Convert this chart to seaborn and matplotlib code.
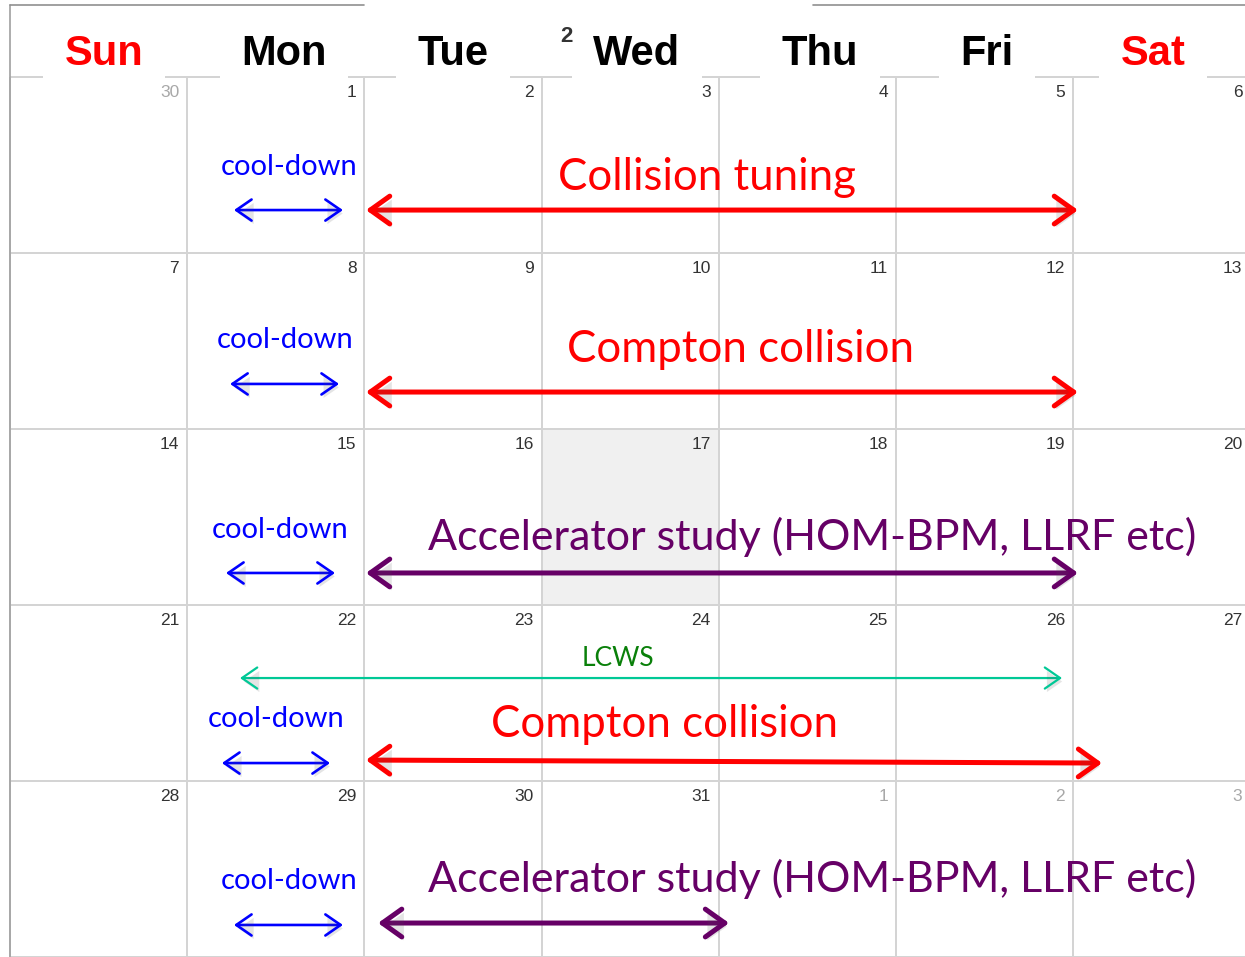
import numpy as np
import pandas as pd
import seaborn as sns
import matplotlib.pyplot as plt
import matplotlib.patheffects as pe
from matplotlib.colors import ListedColormap

sns.set_theme(style="white")
plt.rcParams['font.family'] = ['Lato', 'DejaVu Sans']

# calendar data
weekdays = ['Sun', 'Mon', 'Tue', 'Wed', 'Thu', 'Fri', 'Sat']
weekday_colors = ['#ff0000', 'black', 'black', 'black', 'black', 'black', '#ff0000']
day_numbers = [
    [30, 1, 2, 3, 4, 5, 6],
    [7, 8, 9, 10, 11, 12, 13],
    [14, 15, 16, 17, 18, 19, 20],
    [21, 22, 23, 24, 25, 26, 27],
    [28, 29, 30, 31, 1, 2, 3],
]
in_month = [
    [0, 1, 1, 1, 1, 1, 1],
    [1, 1, 1, 1, 1, 1, 1],
    [1, 1, 1, 1, 1, 1, 1],
    [1, 1, 1, 1, 1, 1, 1],
    [1, 1, 1, 1, 0, 0, 0],
]
highlight = np.zeros((5, 7))
highlight[2, 3] = 1  # the 17th is shaded

# events: (x start, x end, y start, y end) in week/day units
cooldown_arrows = [
    (1.264, 1.879, 0.756, 0.756),
    (1.242, 1.857, 1.744, 1.744),
    (1.219, 1.834, 2.818, 2.818),
    (1.196, 1.806, 3.898, 3.898),
    (1.264, 1.879, 4.818, 4.818),
]
cooldown_text = [(1.574, 0.557), (1.552, 1.540), (1.524, 2.619), (1.501, 3.693), (1.574, 4.614)]

run_arrows = [
    (2.009, 6.027, 0.756, 0.756, 'red'),
    (2.009, 6.027, 1.790, 1.790, 'red'),
    (2.009, 6.027, 2.818, 2.818, 'purple'),
    (2.009, 6.163, 3.881, 3.898, 'red'),
    (2.077, 4.058, 4.807, 4.807, 'purple'),
]
run_labels = ['Collision tuning', 'Compton collision',
              'Accelerator study (HOM-BPM, LLRF etc)',
              'Compton collision',
              'Accelerator study (HOM-BPM, LLRF etc)']
run_label_kind = ['red', 'red', 'purple', 'red', 'purple']
run_label_pos = [(3.934, 0.642), (4.125, 1.619), (4.526, 2.688), (3.691, 3.750), (4.526, 4.631)]
run_label_size = [31.5, 31.5, 31, 31.5, 31]

lcws_arrow = (1.298, 5.937, 3.415, 3.415)
lcws_pos = (3.431, 3.347)

colors = {'red': '#ff0000', 'purple': '#660066', 'blue': '#0000ff',
          'teal': '#00c896', 'green': '#0a800a'}

fig = plt.figure(figsize=(12.45, 9.57), dpi=100)
ax = fig.add_axes([0, 0, 1, 1])

sns.heatmap(pd.DataFrame(highlight), ax=ax, cmap=ListedColormap(['white', '#f0f0f0']),
            cbar=False, linewidths=1.1, linecolor='#d4d4d4',
            xticklabels=False, yticklabels=False)
ax.set_xlim(-10 / 177.2, 1235 / 177.2)
ax.set_ylim(5.0, -77 / 176)
ax.axis('off')

# header frame
ax.plot([0, 0], [-0.409, 5], color='#a0a0a0', lw=1.2, zorder=6)
for a, b in [(0, 2.0), (4.53, 7)]:
    ax.plot([a, b], [-0.409, -0.409], color='#909090', lw=1.2, zorder=6)

header_x = [0.530, 1.546, 2.500, 3.538, 4.571, 5.514, 6.450]
for i, name in enumerate(weekdays):
    ax.text(header_x[i], -0.068, name, ha='center', va='baseline',
            fontsize=30, fontweight='bold', family='Liberation Sans',
            color=weekday_colors[i], zorder=4,
            bbox=dict(boxstyle='square,pad=0.52', fc='white', ec='none'))
ax.text(3.138, -0.20, '2', ha='center', va='baseline', fontsize=16,
        fontweight='bold', family='Liberation Sans', color='#333333', zorder=5)

# day numbers
for r, week in enumerate(day_numbers):
    for c, d in enumerate(week):
        ax.text(c + 1 - 8 / 177.2, r + 8 / 176, str(d), ha='right', va='top',
                fontsize=12.5, family='Liberation Sans',
                color='#333333' if in_month[r][c] else '#a8a8a8', zorder=5)


def arrow(x0, x1, y0, y1, color, lw, hl, hw):
    ax.annotate('', xy=(x1, y1), xytext=(x0, y0),
                arrowprops=dict(arrowstyle=f'<->,head_length={hl},head_width={hw}',
                                color=color, lw=lw, shrinkA=0, shrinkB=0,
                                mutation_scale=20, capstyle='round', joinstyle='round',
                                path_effects=[pe.SimplePatchShadow(offset=(1.5, -2.5), alpha=0.15),
                                              pe.Normal()]),
                zorder=7)


for x0, x1, y0, y1 in cooldown_arrows:
    arrow(x0, x1, y0, y1, colors['blue'], 1.9, 0.55, 0.38)
for (x, y) in cooldown_text:
    ax.text(x, y, 'cool-down', ha='center', va='baseline', fontsize=21,
            color=colors['blue'], zorder=8)

for x0, x1, y0, y1, kind in run_arrows:
    arrow(x0, x1, y0, y1, colors[kind], 3.6, 0.7, 0.5)
for label, kind, (x, y), fs in zip(run_labels, run_label_kind, run_label_pos, run_label_size):
    ax.text(x, y, label, ha='center', va='baseline', fontsize=fs,
            color=colors[kind], zorder=8)

x0, x1, y0, y1 = lcws_arrow
arrow(x0, x1, y0, y1, colors['teal'], 1.6, 0.55, 0.38)
ax.text(lcws_pos[0], lcws_pos[1], 'LCWS', ha='center', va='baseline', fontsize=19,
        color=colors['green'], zorder=8)

fig.savefig('out.png', dpi=100)
